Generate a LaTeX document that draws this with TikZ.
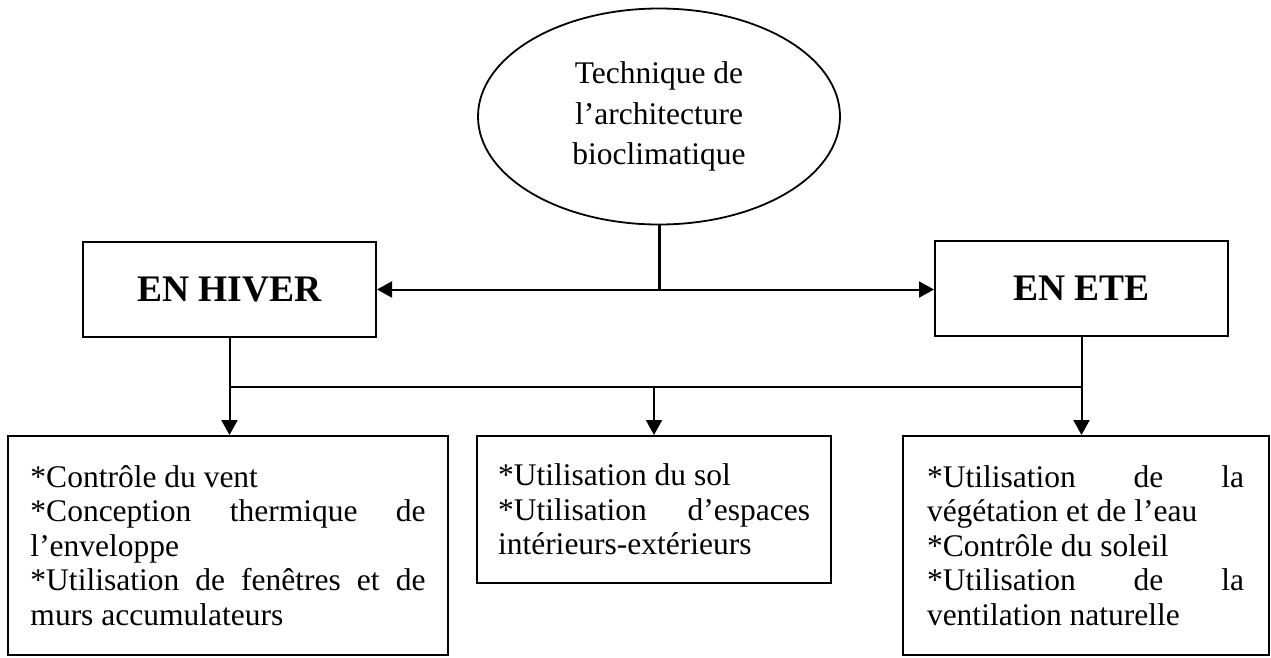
\documentclass[tikz,border=0pt]{standalone}
\usepackage{fontspec}
\setmainfont{Liberation Serif}
\usetikzlibrary{shapes.geometric,arrows.meta}

\begin{document}
\begin{tikzpicture}[x=1pt, y=-1pt,
    season/.style={draw, line width=2pt, minimum width=293pt, minimum height=95pt, font=\fontsize{37.5}{44}\selectfont\bfseries},
    listbox/.style={draw, line width=2pt, align=justify, font=\fontsize{31.5}{34.5}\selectfont},
    link/.style={line width=2pt},
    arrow/.style={link, -{Triangle[length=15pt, width=16pt]}}]
    \useasboundingbox (0,0) rectangle (1271,657);

    % Main technique ellipse
    \node[draw, ellipse, line width=1.8pt, minimum width=362pt, minimum height=216pt, align=center, font=\fontsize{31.5}{40.5}\selectfont] (tech) at (659,116.5) {Technique de\\ l’architecture\\ bioclimatique};

    % Season blocks
    \node[season] (hiver) at (229.5,289.5) {EN HIVER};
    \node[season] (ete) at (1081.5,288.5) {EN ETE};

    % Strategy blocks
    \node[listbox, text width=395pt, minimum width=440pt, minimum height=219pt] (vent) at (228,545.5) {*Contrôle du vent\\{}%
        *Conception thermique de\linebreak l’enveloppe\\{}%
        *Utilisation de fenêtres et de\linebreak murs accumulateurs};
    \node[listbox, text width=312pt, minimum width=354pt, minimum height=147pt] (sol) at (654,509.5) {*Utilisation du sol\\{}%
        *Utilisation d’espaces\linebreak intérieurs-extérieurs};
    \node[listbox, text width=317pt, minimum width=366pt, minimum height=219pt] (soleil) at (1085.5,545.5) {*Utilisation de la\linebreak végétation et de l’eau\\{}%
        *Contrôle du soleil\\{}%
        *Utilisation de la\linebreak ventilation naturelle};

    % Connections from the ellipse
    \coordinate (split) at (tech.south |- hiver.east);
    \draw[link, line width=3pt] (tech.south) -- (split);
    \draw[arrow] (split) -- (hiver.east);
    \draw[arrow] (split) -- (split -| ete.west);

    % Connections to the strategies
    \coordinate (busL) at (hiver.south |- 0,387);
    \coordinate (busR) at (ete.south |- 0,387);
    \draw[link] (busL) -- (busR);
    \draw[arrow] (hiver.south) -- (hiver.south |- vent.north);
    \draw[arrow] (ete.south) -- (ete.south |- soleil.north);
    \draw[arrow] (busL -| sol.north) -- (sol.north);
\end{tikzpicture}
\end{document}
